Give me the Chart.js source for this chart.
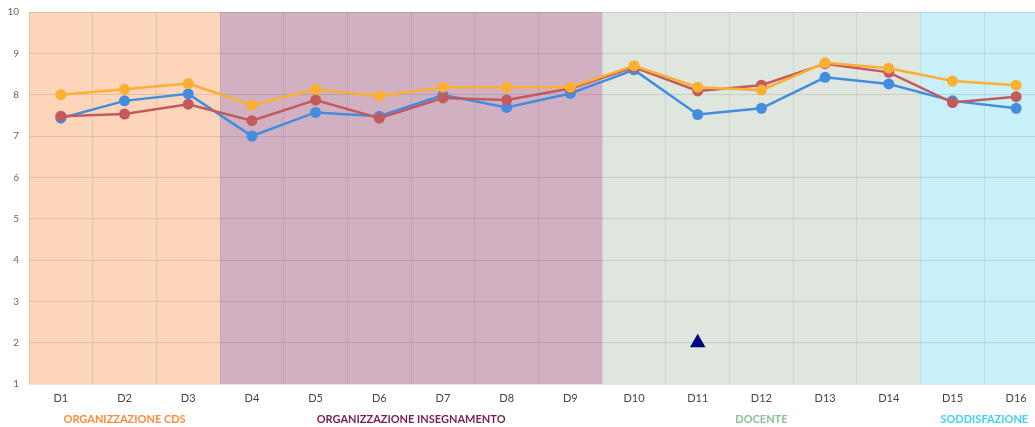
<!DOCTYPE html>
<html>
<head>
<meta charset="utf-8">
<script src="https://cdn.jsdelivr.net/npm/chart.js@4"></script>
<style>
  html, body { margin: 0; padding: 0; background: #fff; overflow: hidden; }
  #grafico { position: absolute; left: 0; top: 0; }
</style>
</head>
<body>
<canvas id="grafico" width="1048" height="427"></canvas>
<script>
const domande = ["D1", "D2", "D3", "D4", "D5", "D6", "D7", "D8", "D9", "D10", "D11", "D12", "D13", "D14", "D15", "D16"];

const serieGialla = [8.0, 8.13, 8.27, 7.75, 8.13, 7.97, 8.18, 8.18, 8.18, 8.70, 8.18, 8.11, 8.77, 8.64, 8.33, 8.23];
const serieRossa  = [7.48, 7.53, 7.77, 7.37, 7.87, 7.43, 7.92, 7.87, 8.15, 8.66, 8.09, 8.23, 8.75, 8.54, 7.81, 7.95];
const serieBlu    = [7.43, 7.85, 8.02, 7.0, 7.57, 7.48, 7.99, 7.69, 8.03, 8.60, 7.52, 7.67, 8.42, 8.26, 7.85, 7.67];
const marcatore   = [null, null, null, null, null, null, null, null, null, null, 2, null, null, null, null, null];

const yTicks = [1, 2, 3, 4, 5, 6, 7, 8, 9, 10];

// gruppi di domande: nome, primo indice, ultimo indice
const gruppiNomi = ["ORGANIZZAZIONE CDS", "ORGANIZZAZIONE INSEGNAMENTO", "DOCENTE", "SODDISFAZIONE"];
const gruppiInizio = [0, 3, 9, 14];
const gruppiFine = [2, 8, 13, 15];
const gruppiSfondo = ["#fdd5bb", "#d1b1c1", "#dee6dd", "#c7f0fb"];
const gruppiTesto = ["#ff8a3d", "#7a1d4d", "#8dbe98", "#3fd1f5"];

const pluginGruppi = {
  id: "gruppi",
  beforeDraw(chart) {
    const ctx = chart.ctx;
    const area = chart.chartArea;
    const x = chart.scales.x;
    const passo = x.getPixelForValue(1) - x.getPixelForValue(0);
    ctx.save();
    for (let i = 0; i < gruppiNomi.length; i++) {
      let x0 = x.getPixelForValue(gruppiInizio[i]) - passo / 2;
      let x1 = x.getPixelForValue(gruppiFine[i]) + passo / 2;
      ctx.fillStyle = gruppiSfondo[i];
      ctx.fillRect(x0, area.top, x1 - x0, area.bottom - area.top);
    }
    ctx.restore();
  },
  afterDraw(chart) {
    const ctx = chart.ctx;
    const x = chart.scales.x;
    ctx.save();
    ctx.font = "bold 11px Lato";
    ctx.textAlign = "center";
    ctx.textBaseline = "middle";
    for (let i = 0; i < gruppiNomi.length; i++) {
      const centro = (x.getPixelForValue(gruppiInizio[i]) + x.getPixelForValue(gruppiFine[i])) / 2;
      ctx.fillStyle = gruppiTesto[i];
      ctx.fillText(gruppiNomi[i], centro, 419);
    }
    ctx.restore();
  }
};

const data = {
  labels: domande,
  datasets: [
    {
      label: "marcatore",
      data: marcatore,
      showLine: false,
      pointStyle: "triangle",
      pointRadius: 9,
      backgroundColor: "#000080",
      borderColor: "#000080",
      borderWidth: 0
    },
    {
      label: "gialla",
      data: serieGialla,
      borderColor: "#fbb034",
      backgroundColor: "#fbb034",
      borderWidth: 2.5,
      pointRadius: 5.5,
      pointBorderWidth: 0,
      tension: 0
    },
    {
      label: "rossa",
      data: serieRossa,
      borderColor: "#c25a5e",
      backgroundColor: "#c25a5e",
      borderWidth: 2.5,
      pointRadius: 5.5,
      pointBorderWidth: 0,
      tension: 0
    },
    {
      label: "blu",
      data: serieBlu,
      borderColor: "#428de0",
      backgroundColor: "#428de0",
      borderWidth: 2.5,
      pointRadius: 5.5,
      pointBorderWidth: 0,
      tension: 0
    }
  ]
};

const config = {
  type: "line",
  data: data,
  options: {
    responsive: false,
    animation: false,
    layout: { autoPadding: false, padding: { top: 12, right: 0, left: 0, bottom: 0 } },
    plugins: {
      legend: { display: false },
      tooltip: { enabled: false }
    },
    scales: {
      x: {
        offset: true,
        grid: { offset: true, color: "rgba(0,0,0,0.08)", drawTicks: false },
        border: { display: false },
        ticks: { color: "#444", font: { family: "Lato", size: 11 }, padding: 8 },
        afterFit(scale) { scale.height = 43; }
      },
      y: {
        min: 1,
        max: 10,
        grid: { color: "rgba(0,0,0,0.1)", drawTicks: false },
        border: { display: false },
        afterBuildTicks(scale) { scale.ticks = yTicks.map(v => ({ value: v })); },
        ticks: { color: "#666", font: { family: "Lato", size: 10 }, padding: 10 },
        afterFit(scale) {
          scale.width = 29;
          scale.paddingTop = 0;
          scale.paddingBottom = 0;
        }
      }
    }
  },
  plugins: [pluginGruppi]
};

new Chart(document.querySelector("#grafico"), config);
</script>
</body>
</html>
